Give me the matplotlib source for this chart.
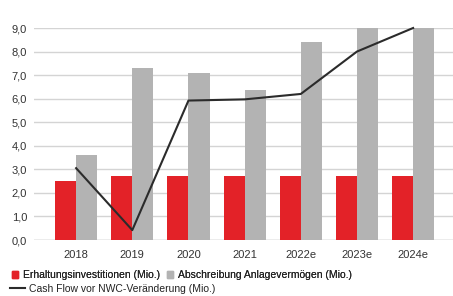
import matplotlib
matplotlib.use("Agg")
import matplotlib.pyplot as plt
from matplotlib.patches import Patch
from matplotlib.lines import Line2D
import numpy as np

categories = ["2018", "2019", "2020", "2021", "2022e", "2023e", "2024e"]
erhaltung = [2.5, 2.7, 2.7, 2.7, 2.7, 2.7, 2.7]
abschreibung = [3.6, 7.3, 7.1, 6.35, 8.4, 9.0, 9.0]
cashflow = [3.05, 0.42, 5.92, 5.97, 6.2, 8.0, 9.0]
yticks = [0, 1, 2, 3, 4, 5, 6, 7, 8, 9]

plt.rcParams['font.family'] = ['Liberation Sans', 'DejaVu Sans']

W, H = 453, 296
fig = plt.figure(figsize=(W/100, H/100), dpi=100)
ax = fig.add_axes([34/W, 56/H, (453-34)/W, (240-28)/H])

x = np.arange(len(categories))
bw = 0.375
red = "#e32228"
gray = "#b3b3b3"
ax.bar(x - bw/2, erhaltung, bw, color=red, zorder=2)
ax.bar(x + bw/2, abschreibung, bw, color=gray, zorder=2)
ax.plot(x, cashflow, color="#2b2b2b", lw=1.5, zorder=3, clip_on=False)

ax.set_xlim(-0.75, 6.71)
ax.set_ylim(0, 9)
ax.set_yticks(yticks)
ax.set_yticklabels([f"{v:.1f}".replace(".", ",") for v in yticks])
ax.set_xticks(x)
ax.set_xticklabels(categories)
ax.grid(axis="y", color="#d4d4d4", lw=1, zorder=0)
for s in ax.spines.values():
    s.set_visible(False)
ax.axhline(0, color="#bdbdbd", lw=1, zorder=1)
ax.tick_params(length=0, labelsize=8, colors="#333333")
ax.tick_params(axis="y", pad=5)
ax.tick_params(axis="x", pad=7)

leg1 = fig.legend(handles=[Patch(color=red), Patch(color=gray)],
                  labels=["Erhaltungsinvestitionen (Mio.)", "Abschreibung Anlagevermögen (Mio.)"],
                  loc="center left", bbox_to_anchor=(12/W, 1 - 275/H), ncol=2, frameon=False,
                  fontsize=7.5, handlelength=0.6, handleheight=0.6, handletextpad=0.45,
                  columnspacing=0.65, borderpad=0, borderaxespad=0)
for t in leg1.get_texts():
    t.set_color("#222222")
fig.add_artist(leg1)
leg2 = fig.legend(handles=[Line2D([0], [0], color="#2b2b2b", lw=1.5)],
                  labels=["Cash Flow vor NWC-Veränderung (Mio.)"],
                  loc="center left", bbox_to_anchor=(10/W, 1 - 289/H), frameon=False,
                  fontsize=7.5, handlelength=1.45, handletextpad=0.35, borderpad=0, borderaxespad=0)
for t in leg2.get_texts():
    t.set_color("#222222")

fig.savefig("out.png", dpi=100)
